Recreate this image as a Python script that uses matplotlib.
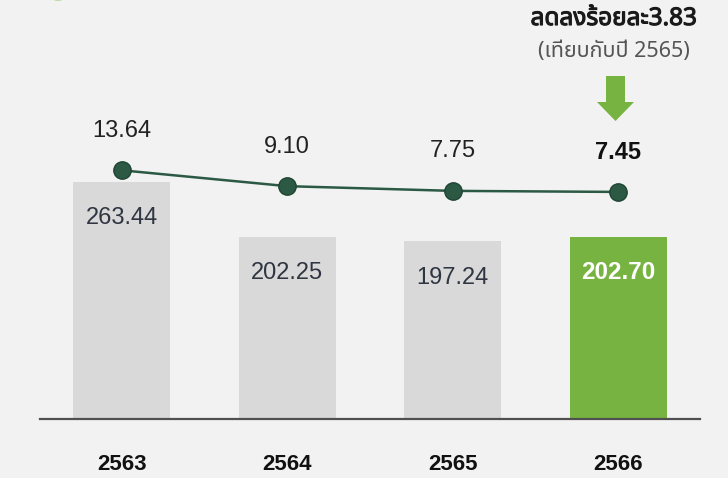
import matplotlib
matplotlib.use("Agg")
import matplotlib.pyplot as plt
import matplotlib.patheffects as pe
from matplotlib.patches import FancyArrow, Circle

years = ["2563", "2564", "2565", "2566"]
bar_values = [263.44, 202.25, 197.24, 202.70]
line_values = [13.64, 9.10, 7.75, 7.45]
change_title = "ลดลงร้อยละ3.83"
change_note = "(เทียบกับปี 2565)"

BG = "#f2f2f2"
GREY_BAR = "#d9d9d9"
GREEN = "#77b341"
DARK_GREEN = "#2b5944"
W, H = 728, 478

num_font = ["Liberation Sans", "DejaVu Sans"]
thai_font = ["Noto Sans Thai", "Noto Sans", "DejaVu Sans"]

fig = plt.figure(figsize=(W / 100, H / 100), dpi=100, facecolor=BG)
ax = fig.add_axes([40 / W, 59 / H, 660 / W, 419 / H])
ax.set_facecolor("none")

x = list(range(len(years)))
colors = [GREY_BAR] * (len(years) - 1) + [GREEN]
ax.bar(x, bar_values, width=0.585, color=colors, zorder=2)
ax.set_xlim(-0.492, 3.492)
ax.set_ylim(0, 419 / 0.9)

for s in ["top", "right", "left"]:
    ax.spines[s].set_visible(False)
ax.spines["bottom"].set_color("#505050")
ax.spines["bottom"].set_linewidth(1.6)
ax.set_yticks([])
ax.set_xticks([])

# values inside the bars
last = len(years) - 1
for i, v in enumerate(bar_values):
    bold = i == last
    ax.annotate(f"{v:.2f}", xy=(i, v), xytext=(0, -26), textcoords="offset points",
                ha="center", va="center", fontsize=17.5 if bold else 17,
                fontweight="bold" if bold else "normal",
                color="white" if bold else "#2f3541", family=num_font, zorder=3)

# year labels under the baseline
for i, y in enumerate(years):
    ax.annotate(y, xy=(i, 0), xycoords=("data", "axes fraction"), xytext=(0, -33),
                textcoords="offset points", ha="center", va="center",
                fontsize=16, fontweight="bold", color="#111111", family=num_font)

# ratio line on its own scale
ax2 = ax.twinx()
ax2.set_ylim(-57.43, 62.29)
ax2.axis("off")
ax2.plot(x, line_values, color=DARK_GREEN, lw=1.8, marker="o", markersize=12.5,
         markerfacecolor=DARK_GREEN, markeredgecolor="#1f4433", markeredgewidth=1,
         zorder=4)
for i, v in enumerate(line_values):
    bold = i == last
    ax2.annotate(f"{v:.2f}", xy=(i, v), xytext=(0, 28.5), textcoords="offset points",
                 ha="center", va="center", fontsize=17,
                 fontweight="bold" if bold else "normal",
                 color="#111111" if bold else "#222222", family=num_font)

# change callout above the last year
fig.text(614 / W, 1 - 19 / H, change_title, ha="center", va="center",
         fontsize=17.5, fontweight="bold", color="#1a1a1a", family=thai_font,
         path_effects=[pe.withStroke(linewidth=0.8, foreground="#1a1a1a")])
fig.text(614 / W, 1 - 52 / H, change_note, ha="center", va="center",
         fontsize=15.5, color="#555555", family=thai_font)

px = fig.dpi_scale_trans
arrow = FancyArrow(615.5 / 100, (H - 76) / 100, 0, -45 / 100, width=19 / 100,
                   head_width=37 / 100, head_length=19 / 100,
                   length_includes_head=True, color=GREEN, lw=0, transform=px)
fig.patches.append(arrow)

# legend dot cut off at the top edge
fig.patches.append(Circle((58 / 100, (H + 9) / 100), 10 / 100, color="#b9dca0",
                          lw=0, transform=px))

fig.savefig("out.png", dpi=100, facecolor=BG)
